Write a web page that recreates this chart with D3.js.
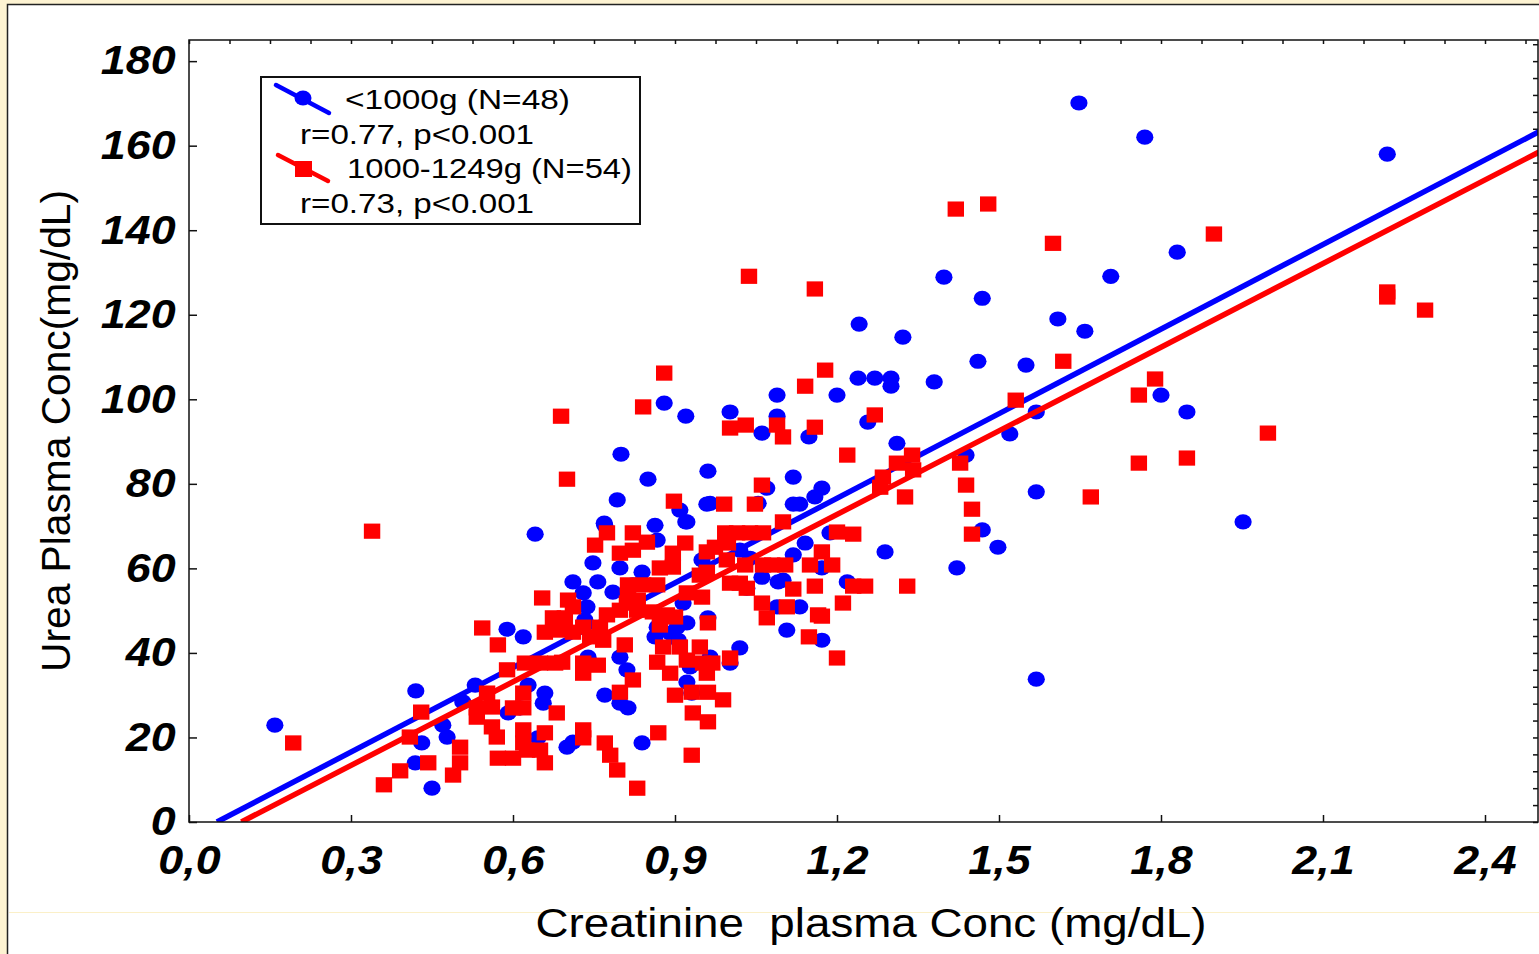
<!DOCTYPE html>
<html>
<head>
<meta charset="utf-8">
<script src="https://cdn.jsdelivr.net/npm/d3@7"></script>
<style>
body { margin: 0; background: #fdf3d2; }
svg { display: block; }
</style>
</head>
<body>
<svg id="chart"></svg>
<script>
// <1000g group: [creatinine, urea]
var bluePoints = [
  [0.159,22.9],[0.420,31.0],[0.419,14.0],[0.431,18.7],[0.450,8.0],[0.470,22.9],[0.478,20.1],[0.507,28.4],
  [0.530,32.4],[0.589,45.6],[0.619,43.8],[0.628,32.4],[0.659,30.5],[0.656,28.1],[0.613,27.0],[0.591,25.8],
  [0.646,19.9],[0.700,17.7],[0.711,18.9],[0.839,18.7],[0.770,30.0],[0.798,28.1],[0.813,27.0],[0.739,39.0],
  [0.798,39.0],[0.811,36.0],[0.748,61.3],[0.711,56.8],[0.757,56.8],[0.730,54.2],[0.737,50.9],[0.733,47.8],
  [0.770,70.2],[0.798,60.1],[0.839,59.1],[0.863,70.2],[0.922,71.0],[0.909,73.8],[0.965,75.4],[0.793,76.2],
  [0.867,66.7],[0.822,56.1],[0.822,52.5],[0.785,54.4],[0.867,46.1],[0.891,44.7],[0.922,47.1],[0.906,43.0],
  [0.928,36.7],[0.922,33.1],[0.931,30.5],[0.961,48.3],[0.965,39.0],[1.020,41.2],[1.002,37.6],[1.061,57.9],
  [1.089,50.9],[1.091,56.8],[0.950,62.0],[1.020,64.3],[1.054,75.4],[0.641,68.1],[1.089,101.0],[1.200,101.0],
  [1.239,105.0],[1.270,105.0],[1.300,105.0],[1.300,103.1],[1.380,104.1],[0.880,99.1],[0.920,96.0],[1.002,97.0],
  [1.089,96.0],[1.061,92.0],[1.148,91.1],[1.257,94.6],[0.800,87.0],[1.311,89.6],[0.961,83.0],[0.850,81.1],
  [1.119,81.6],[1.172,79.0],[1.159,76.9],[1.070,79.0],[0.959,75.2],[1.119,75.2],[1.131,75.2],[0.920,71.0],
  [0.769,70.7],[1.141,66.0],[1.187,68.4],[1.289,63.9],[1.119,63.2],[1.039,62.4],[1.172,60.1],[1.100,57.2],
  [1.219,56.8],[1.033,55.3],[0.915,51.8],[1.131,50.9],[0.904,46.1],[1.107,45.4],[1.172,43.0],[0.863,43.8],
  [1.398,128.9],[1.469,123.9],[1.241,117.8],[1.322,114.7],[1.461,109.0],[1.648,170.1],[1.770,162.0],[2.219,158.0],
  [1.830,134.8],[1.707,129.1],[1.609,119.0],[1.659,116.1],[1.550,108.1],[1.800,101.0],[1.848,97.0],[1.569,97.0],
  [1.520,91.8],[1.439,86.8],[1.569,78.1],[1.469,69.1],[1.498,65.0],[1.422,60.1],[1.952,71.0],[1.569,33.8]
];

// 1000-1249g group
var redPoints = [
  [0.339,68.8],[0.193,18.7],[0.361,8.8],[0.391,12.1],[0.409,20.1],[0.430,26.0],[0.443,14.0],[0.489,11.1],
  [0.502,17.7],[0.502,14.0],[0.543,45.9],[0.572,41.9],[0.533,27.0],[0.552,30.5],[0.561,27.2],[0.533,24.8],
  [0.561,22.5],[0.570,20.1],[0.572,15.1],[0.600,15.1],[0.600,27.0],[0.619,30.5],[0.619,27.0],[0.619,21.8],
  [0.619,18.7],[0.626,17.0],[0.659,21.1],[0.650,17.0],[0.659,14.0],[0.681,25.8],[0.730,21.8],[0.730,19.9],
  [0.770,18.7],[0.780,15.8],[0.793,12.3],[0.830,8.0],[0.869,21.1],[0.931,15.8],[0.933,25.8],[0.961,23.7],
  [0.900,30.0],[0.931,30.7],[0.961,30.7],[0.989,28.9],[0.798,30.7],[0.822,33.6],[0.654,53.0],[0.674,48.3],
  [0.696,48.3],[0.711,50.9],[0.702,52.5],[0.659,44.9],[0.687,45.4],[0.711,44.9],[0.730,46.1],[0.743,43.8],
  [0.767,43.0],[0.761,46.1],[0.774,49.0],[0.798,50.1],[0.830,50.1],[0.811,51.8],[0.831,52.5],[0.813,53.7],
  [0.813,56.1],[0.841,56.1],[0.867,56.1],[0.752,65.5],[0.774,68.4],[0.822,68.4],[0.798,63.6],[0.822,64.3],
  [0.848,66.2],[0.807,41.9],[0.730,37.6],[0.757,37.1],[0.730,35.2],[0.589,36.0],[0.622,37.6],[0.650,37.6],
  [0.678,37.6],[0.691,37.8],[0.859,49.7],[0.885,49.0],[0.900,48.5],[0.872,46.6],[0.878,41.4],[0.909,41.4],
  [0.946,41.4],[0.867,37.8],[0.891,35.2],[0.922,38.3],[0.952,37.6],[0.969,37.6],[1.002,38.8],[0.959,35.2],
  [0.961,47.1],[0.922,54.2],[0.950,53.2],[0.946,58.4],[0.959,59.1],[0.896,60.3],[0.872,60.1],[0.896,63.6],
  [0.919,66.0],[0.959,63.9],[0.974,65.0],[0.998,66.0],[0.993,68.4],[1.015,68.4],[1.039,68.4],[1.063,68.4],
  [0.996,62.0],[1.030,60.8],[1.063,60.8],[1.002,56.5],[1.020,56.5],[1.033,55.3],[1.061,51.8],[1.070,48.3],
  [0.898,75.9],[0.991,75.2],[1.048,75.2],[1.061,79.7],[1.100,71.0],[1.080,60.8],[1.104,60.8],[1.150,60.8],
  [1.191,60.8],[1.159,55.8],[1.230,55.8],[1.252,55.8],[1.330,55.8],[1.119,55.1],[1.211,51.8],[1.165,49.0],
  [1.148,43.8],[1.200,38.8],[1.172,63.9],[1.200,68.6],[1.230,68.1],[1.280,79.2],[1.285,81.6],[1.311,84.9],
  [1.339,86.8],[1.341,83.3],[1.326,76.9],[1.219,86.8],[1.002,93.2],[1.031,93.9],[1.089,93.9],[1.100,91.1],
  [1.159,93.4],[0.841,98.2],[0.689,96.0],[0.700,81.1],[0.880,106.2],[1.037,129.1],[1.159,126.1],[1.178,106.9],
  [1.141,103.1],[1.270,96.3],[1.420,145.0],[1.480,146.2],[1.600,136.9],[1.619,109.0],[1.531,99.8],[1.428,84.9],
  [1.439,79.7],[1.450,74.0],[1.450,68.1],[1.670,76.9],[1.759,84.9],[1.848,86.1],[1.759,101.0],[1.789,104.8],
  [1.898,139.1],[1.998,92.0],[2.219,125.4],[2.219,124.2],[2.289,121.1],[1.107,50.9],[1.172,48.7]
];

// regression lines: [blue, red]
var fitSlope = [66.7, 65.96];
var fitIntercept = [-3.45, -6.4];

var xTicks = [0, 0.3, 0.6, 0.9, 1.2, 1.5, 1.8, 2.1, 2.4];
var yTicks = [0, 20, 40, 60, 80, 100, 120, 140, 160, 180];
var legendNames = ["<1000g (N=48)", "1000-1249g (N=54)"];
var legendStats = ["r=0.77, p<0.001", "r=0.73, p<0.001"];

var screen = { width: 1539, height: 954 };
var plot = { left: 189, top: 40, right: 1538, bottom: 822 };
var font = "'Liberation Sans', Arial, sans-serif";

var svg = d3.select("#chart")
  .attr("width", screen.width)
  .attr("height", screen.height);

// cream page and white panel
svg.append("rect").attr("width", screen.width).attr("height", screen.height).attr("fill", "#fdf3d2");
svg.append("rect")
  .attr("x", 7.5).attr("y", 4.5)
  .attr("width", screen.width).attr("height", screen.height)
  .attr("fill", "white").attr("stroke", "#222").attr("stroke-width", 1.5);
svg.append("line")
  .attr("x1", 9).attr("x2", screen.width).attr("y1", 912.5).attr("y2", 912.5)
  .attr("stroke", "#fbf0c8").attr("stroke-width", 1);

var xScale = d3.scaleLinear().domain([0, 2.5]).range([plot.left, 1539]);
var yScale = d3.scaleLinear().domain([0, 185]).range([plot.bottom, plot.top]);

svg.append("clipPath").attr("id", "plotclip")
  .append("rect")
  .attr("x", plot.left).attr("y", plot.top)
  .attr("width", plot.right - plot.left).attr("height", plot.bottom - plot.top);

// axes
var yAxis = d3.axisLeft(yScale).tickValues(yTicks).tickSize(-8).tickPadding(12);
var xAxis = d3.axisBottom(xScale).tickValues(xTicks).tickSize(-7).tickPadding(24)
  .tickFormat(function(d) { return d3.format(".1f")(d).replace(".", ","); });
var topAxis = d3.axisTop(xScale).tickValues(d3.range(0, 2.5, 0.075)).tickSize(-4).tickFormat("");
var rightAxis = d3.axisRight(yScale).tickValues(d3.range(0, 185, 4)).tickSize(-5).tickFormat("");

var gy = svg.append("g").attr("transform", "translate(" + plot.left + ",0)").call(yAxis);
var gx = svg.append("g").attr("transform", "translate(0," + plot.bottom + ")").call(xAxis);
var gt = svg.append("g").attr("transform", "translate(0," + plot.top + ")").call(topAxis);
var gr = svg.append("g").attr("transform", "translate(" + plot.right + ",0)").call(rightAxis);

[gy, gx, gt, gr].forEach(function(g) {
  g.select(".domain").remove();
  g.selectAll(".tick line").attr("stroke", "#111").attr("stroke-width", 1.5);
});

[gy, gx].forEach(function(g) {
  g.selectAll(".tick text")
    .attr("fill", "black")
    .style("font-family", font)
    .style("font-size", "40px")
    .style("font-weight", "bold")
    .style("font-style", "italic")
    .attr("transform", "scale(1.12,1)");
});

// blue scatter and fit
var plotArea = svg.append("g").attr("clip-path", "url(#plotclip)");

plotArea.selectAll("ellipse.blue")
  .data(bluePoints)
  .enter()
  .append("ellipse")
  .attr("class", "blue")
  .attr("cx", function(d) { return xScale(d[0]); })
  .attr("cy", function(d) { return yScale(d[1]); })
  .attr("rx", 8.6).attr("ry", 7.6)
  .attr("fill", "#0000ff");

var fitLine = function(i) {
  var x0 = -fitIntercept[i] / fitSlope[i];
  var x1 = 2.5;
  return [[x0, 0], [x1, fitIntercept[i] + fitSlope[i] * x1]];
};
var line = d3.line()
  .x(function(d) { return xScale(d[0]); })
  .y(function(d) { return yScale(d[1]); });

plotArea.append("path")
  .attr("d", line(fitLine(0)))
  .attr("stroke", "#0000ff").attr("stroke-width", 5.5).attr("fill", "none");

plotArea.selectAll("rect.red")
  .data(redPoints)
  .enter()
  .append("rect")
  .attr("class", "red")
  .attr("x", function(d) { return xScale(d[0]) - 8.2; })
  .attr("y", function(d) { return yScale(d[1]) - 7.6; })
  .attr("width", 16.4).attr("height", 15.2)
  .attr("fill", "#ff0000");

plotArea.append("path")
  .attr("d", line(fitLine(1)))
  .attr("stroke", "#ff0000").attr("stroke-width", 5.5).attr("fill", "none");

// frame
svg.append("rect")
  .attr("x", plot.left).attr("y", plot.top)
  .attr("width", plot.right - plot.left).attr("height", plot.bottom - plot.top)
  .attr("fill", "none").attr("stroke", "#111").attr("stroke-width", 1.5);

// axis titles
svg.append("text")
  .attr("transform", "translate(70,431) rotate(-90)")
  .attr("text-anchor", "middle")
  .attr("textLength", 482).attr("lengthAdjust", "spacingAndGlyphs")
  .style("font-family", font).style("font-size", "40px")
  .text("Urea Plasma Conc(mg/dL)");

svg.append("text")
  .attr("x", 871).attr("y", 937)
  .attr("text-anchor", "middle")
  .attr("textLength", 671).attr("lengthAdjust", "spacingAndGlyphs")
  .style("font-family", font).style("font-size", "40px")
  .style("white-space", "pre")
  .text("Creatinine  plasma Conc (mg/dL)");

// legend
var legend = svg.append("g");
legend.append("rect")
  .attr("x", 261).attr("y", 77).attr("width", 379).attr("height", 147)
  .attr("fill", "white").attr("stroke", "#111").attr("stroke-width", 2);

legend.append("line")
  .attr("x1", 276).attr("y1", 85).attr("x2", 329).attr("y2", 113)
  .attr("stroke", "#0000ff").attr("stroke-width", 4.5).attr("stroke-linecap", "round");
legend.append("ellipse")
  .attr("cx", 303).attr("cy", 98).attr("rx", 8.5).attr("ry", 7.5).attr("fill", "#0000ff");

legend.append("line")
  .attr("x1", 278).attr("y1", 155).attr("x2", 328).attr("y2", 181)
  .attr("stroke", "#ff0000").attr("stroke-width", 4.5).attr("stroke-linecap", "round");
legend.append("rect")
  .attr("x", 295).attr("y", 161).attr("width", 17).attr("height", 16).attr("fill", "#ff0000");

var legendRows = [
  { text: legendNames[0], x: 345, y: 109, w: 225 },
  { text: legendStats[0], x: 300, y: 143.5, w: 234 },
  { text: legendNames[1], x: 347, y: 178, w: 285 },
  { text: legendStats[1], x: 300, y: 212.5, w: 234 }
];
legend.selectAll("text.leg")
  .data(legendRows)
  .enter()
  .append("text")
  .attr("class", "leg")
  .attr("x", function(d) { return d.x; })
  .attr("y", function(d) { return d.y; })
  .attr("textLength", function(d) { return d.w; })
  .attr("lengthAdjust", "spacingAndGlyphs")
  .style("font-family", font).style("font-size", "27.5px")
  .text(function(d) { return d.text; });
</script>
</body>
</html>
